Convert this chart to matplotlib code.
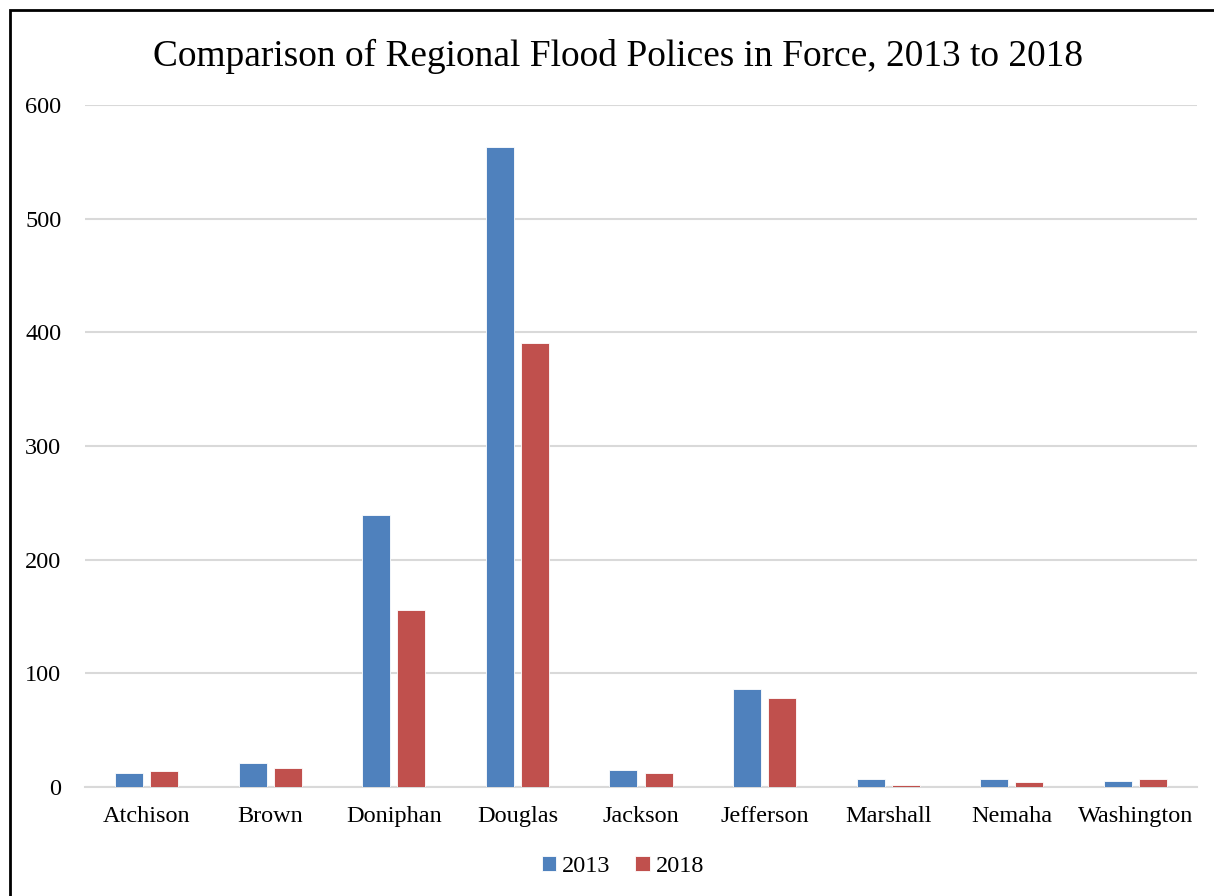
import matplotlib.pyplot as plt
import numpy as np
from matplotlib.patches import Rectangle

counties = ['Atchison', 'Brown', 'Doniphan', 'Douglas', 'Jackson',
            'Jefferson', 'Marshall', 'Nemaha', 'Washington']
policies_2013 = [12, 21, 239, 563, 15, 86, 7, 7, 5]
policies_2018 = [14, 17, 156, 391, 12, 78, 2, 4, 7]
yticks = [0, 100, 200, 300, 400, 500, 600]

plt.rcParams['font.family'] = ['Liberation Serif', 'DejaVu Serif']

fig = plt.figure(figsize=(12.14, 8.96), dpi=100)
ax = fig.add_axes([0.07, 0.1217, 0.916, 0.7611])

x = np.arange(len(counties))
w = 0.227
off = 0.142
ax.bar(x - off, policies_2013, w, color='#4F81BD', edgecolor='white',
       linewidth=0.6, label='2013', zorder=3)
ax.bar(x + off, policies_2018, w, color='#C0504D', edgecolor='white',
       linewidth=0.6, label='2018', zorder=3)

ax.set_xlim(-0.5, len(counties) - 0.5)
ax.set_ylim(0, 600)
ax.set_yticks(yticks)
ax.set_xticks(x)
ax.set_xticklabels(counties)
ax.tick_params(axis='both', length=0, labelsize=17.5, colors='black')
ax.tick_params(axis='y', pad=17)
ax.tick_params(axis='x', pad=14)
ax.grid(axis='y', color='#D9D9D9', linewidth=1.5, zorder=0)
for s in ['top', 'left', 'right']:
    ax.spines[s].set_visible(False)
ax.spines['bottom'].set_color('#D9D9D9')
ax.spines['bottom'].set_linewidth(1.5)

fig.text(0.509, 0.937, 'Comparison of Regional Flood Polices in Force, 2013 to 2018',
         ha='center', va='center', fontsize=26.9)

fig.legend(loc='center', bbox_to_anchor=(0.513, 0.033), ncol=2, frameon=False,
           fontsize=17.5, handlelength=0.6, handleheight=0.6, handletextpad=0.25,
           columnspacing=1.0)

# black frame around the whole picture (open at right/bottom like the source)
fig.patches.append(Rectangle((10 / 1214, -0.05), 1.2, 1.05 - 10 / 896,
                             transform=fig.transFigure, fill=False,
                             edgecolor='black', linewidth=2))

fig.savefig('out.png', dpi=100)
